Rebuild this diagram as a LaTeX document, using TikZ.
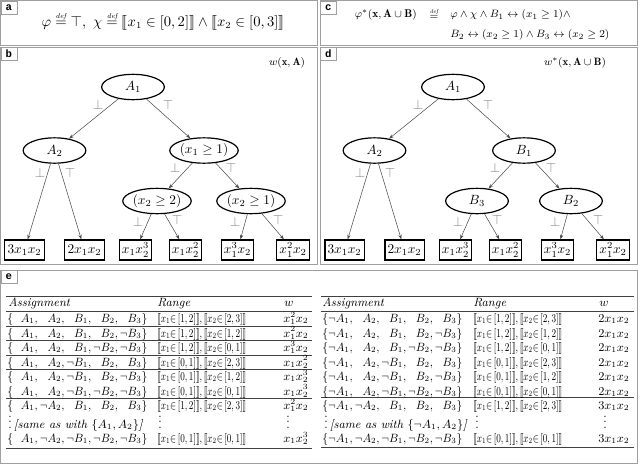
\documentclass[tikz,border=0pt]{standalone}
\usepackage{amsmath,amssymb,stmaryrd}
\usepackage{graphicx}
\usepackage{fontspec}
\newfontfamily\labfont{Liberation Mono}
\usetikzlibrary{shapes.geometric,arrows.meta}
\newlength\litw
\newcommand\Lit[1]{\makebox[\litw][r]{$#1$}}
\newcommand\Asg[5]{\resizebox{105pt}{\height}{\settowidth{\litw}{$\neg B_3$}$\{$\Lit{#1}$,\,$\Lit{#2}$,\,$\Lit{#3}$,\,$\Lit{#4}$,\,$\Lit{#5}$\}$}}
\newcommand\Rng[4]{\resizebox{66.75pt}{\height}{$\llbracket x_1{\in}\,[#1,#2]\rrbracket,\llbracket x_2{\in}\,[#3,#4]\rrbracket$}}
\newcommand\defeq{\mathrel{\overset{\scriptscriptstyle\mathit{def}}{=}}}
\newcommand\DrawTree[4]{%
 \node[ell] (#1A1) at (133,87) {$A_1$};
 \node[ell] (#1A2) at (54.5,150.5) {$A_2$};
 \node[ell] (#1X1) at (204,150.5) {#2};
 \node[ell] (#1Xa) at (157,201) {#3};
 \node[ell] (#1Xb) at (251,201) {#4};
 \node[leaf] (#1L1) at (24.5,250) {$3x_1x_2$};
 \node[leaf] (#1L2) at (84.5,250) {$2x_1x_2$};
 \node[leaf] (#1L3) at (135.5,250) {$x_1x_2^3$};
 \node[leaf] (#1L4) at (185.5,250) {$x_1x_2^2$};
 \node[leaf] (#1L5) at (237.5,250) {$x_1^3x_2$};
 \node[leaf] (#1L6) at (293,250) {$x_1^2x_2$};
 \draw[arr] (#1A1) -- (#1A2);
 \draw[arr] (#1A1) -- (#1X1);
 \draw[arr] (#1A2) -- (#1L1);
 \draw[arr] (#1A2) -- (#1L2);
 \draw[arr] (#1X1) -- (#1Xa);
 \draw[arr] (#1X1) -- (#1Xb);
 \draw[arr] (#1Xa) -- (#1L3);
 \draw[arr] (#1Xa) -- (#1L4);
 \draw[arr] (#1Xb) -- (#1L5);
 \draw[arr] (#1Xb) -- (#1L6);
 \node[lab] (#1t1) at (98,105) {$\bot$};
 \node[lab] (#1t2) at (168,105) {$\top$};
 \node[lab] (#1t3) at (40,173) {$\bot$};
 \node[lab] (#1t4) at (70,173) {$\top$};
 \node[lab] (#1t5) at (175,168) {$\bot$};
 \node[lab] (#1t6) at (231,168) {$\top$};
 \node[lab] (#1t7) at (138,222) {$\bot$};
 \node[lab] (#1t8) at (177,220) {$\top$};
 \node[lab] (#1t9) at (235,222) {$\bot$};
 \node[lab] (#1t10) at (278,220) {$\top$};
}
\tikzset{
 panel/.style={draw=gray!75, line width=0.7pt},
 tag/.style={draw=gray!75, line width=0.6pt, font=\labfont\bfseries\fontsize{8}{8}\selectfont, anchor=north west, minimum width=12pt, minimum height=9.75pt, inner sep=0pt},
 ell/.style={ellipse, draw, line width=0.9pt, minimum width=47pt, minimum height=19pt, inner sep=0pt},
 leaf/.style={rectangle, draw, line width=0.9pt, minimum height=15pt, inner sep=2pt},
 arr/.style={draw=gray!60!black, line width=0.4pt, -{Stealth[length=3.5pt,width=2.5pt]}},
 lab/.style={text=gray, inner sep=0pt},
 wlab/.style={inner sep=0pt, font=\fontsize{8}{10}\selectfont},
 cfont/.style={inner sep=0pt, font=\fontsize{8.4}{10}\selectfont},
 cell/.style={anchor=base west, inner sep=0pt, font=\fontsize{9}{10}\selectfont},
 trule/.style={draw=gray!50!black, line width=0.6pt},
}
\begin{document}
\begin{tikzpicture}[x=0.75pt,y=-0.75pt]
\useasboundingbox (0,0) rectangle (640,465);
% panels
\draw[panel] (0.5,0.5) rectangle (317,45);
\draw[panel] (320,0.5) rectangle (637,45);
\draw[panel] (0.5,47) rectangle (317,264);
\draw[panel] (320,47) rectangle (637,264);
\draw[panel] (0.5,270) rectangle (637,463);
\node[tag] (ta) at (0.5,0.5) {a};
\node[tag] (tc) at (320,0.5) {c};
\node[tag] (tb) at (0.5,47) {b};
\node[tag] (td) at (320,47) {d};
\node[tag] (te) at (0.5,270) {e};
% panel a
\node[font=\fontsize{10.6}{12}\selectfont] (fa) at (163,21) {$\varphi \defeq \top,\ \chi \defeq \llbracket x_1\in[0,2]\rrbracket\wedge\llbracket x_2\in[0,3]\rrbracket$};
% panel c
\node[cfont, anchor=east] (fc1) at (417,15) {$\varphi^*(\mathbf{x},\mathbf{A}\cup\mathbf{B})$};
\node[cfont] (fc2) at (434,14) {$\defeq$};
\node[cfont, anchor=west] (fc3) at (450,15) {$\varphi\wedge\chi\wedge B_1\leftrightarrow(x_1\geq 1)\wedge$};
\node[cfont, anchor=west] (fc4) at (450,35) {$B_2\leftrightarrow(x_2\geq 1)\wedge B_3\leftrightarrow(x_2\geq 2)$};
% panel b
\node[wlab] (wb) at (287,63) {$w(\mathbf{x},\mathbf{A})$};
\DrawTree{b}{$(x_1\geq 1)$}{$(x_2\geq 2)$}{$(x_2\geq 1)$}
% panel d
\node[wlab] (wd) at (575,63) {$w^*(\mathbf{x},\mathbf{A}\cup\mathbf{B})$};
\begin{scope}[xshift=240pt]
\DrawTree{d}{$B_1$}{$B_3$}{$B_2$}
\end{scope}
% table left
\coordinate (l0) at (6,296.7); \coordinate (l0r) at (312,296.7);
\coordinate (l1) at (6,311.5); \coordinate (l1r) at (312,311.5);
\coordinate (l2) at (6,326); \coordinate (l2r) at (312,326);
\coordinate (l3) at (6,340.5); \coordinate (l3r) at (312,340.5);
\coordinate (l4) at (6,355); \coordinate (l4r) at (312,355);
\coordinate (l5) at (6,369.5); \coordinate (l5r) at (312,369.5);
\coordinate (l6) at (6,398.3); \coordinate (l6r) at (312,398.3);
\coordinate (l7) at (6,448); \coordinate (l7r) at (312,448);
\foreach \i in {0,...,7} \draw[trule] (l\i) -- (l\i r);
\node[cell] (lh1) at (8,306.5) {\itshape Assignment};
\node[cell] (lh2) at (157,306.5) {\itshape Range};
\node[cell] (lh3) at (284,306.5) {$w$};
\node[cell] (la1) at (7,322.5) {\Asg{A_1}{A_2}{B_1}{B_2}{B_3}};
\node[cell] (lb1) at (157,322.5) {\Rng{1}{2}{2}{3}};
\node[cell] (lc1) at (283,322.5) {$x_1^2x_2$};
\node[cell] (la2) at (7,337) {\Asg{A_1}{A_2}{B_1}{B_2}{\neg B_3}};
\node[cell] (lb2) at (157,337) {\Rng{1}{2}{1}{2}};
\node[cell] (lc2) at (283,337) {$x_1^2x_2$};
\node[cell] (la3) at (7,351.5) {\Asg{A_1}{A_2}{B_1}{\neg B_2}{\neg B_3}};
\node[cell] (lb3) at (157,351.5) {\Rng{1}{2}{0}{1}};
\node[cell] (lc3) at (283,351.5) {$x_1^3x_2$};
\node[cell] (la4) at (7,366) {\Asg{A_1}{A_2}{\neg B_1}{B_2}{B_3}};
\node[cell] (lb4) at (157,366) {\Rng{0}{1}{2}{3}};
\node[cell] (lc4) at (283,366) {$x_1x_2^2$};
\node[cell] (la5) at (7,380.5) {\Asg{A_1}{A_2}{\neg B_1}{B_2}{\neg B_3}};
\node[cell] (lb5) at (157,380.5) {\Rng{0}{1}{1}{2}};
\node[cell] (lc5) at (283,380.5) {$x_1x_2^3$};
\node[cell] (la6) at (7,395) {\Asg{A_1}{A_2}{\neg B_1}{\neg B_2}{\neg B_3}};
\node[cell] (lb6) at (157,395) {\Rng{0}{1}{0}{1}};
\node[cell] (lc6) at (283,395) {$x_1x_2^3$};
\node[cell] (la7) at (7,409.5) {\Asg{A_1}{\neg A_2}{B_1}{B_2}{B_3}};
\node[cell] (lb7) at (157,409.5) {\Rng{1}{2}{2}{3}};
\node[cell] (lc7) at (283,409.5) {$x_1^2x_2$};
\node[cell] (la8) at (8,428) {$\vdots\,$\textit{[same as with} $\{A_1,A_2\}$\textit{]}};
\node[cell] (lb8) at (158,428) {$\vdots$};
\node[cell] (lc8) at (286,428) {$\vdots$};
\node[cell] (la9) at (7,442.5) {\Asg{A_1}{\neg A_2}{\neg B_1}{\neg B_2}{\neg B_3}};
\node[cell] (lb9) at (157,442.5) {\Rng{0}{1}{0}{1}};
\node[cell] (lc9) at (283,442.5) {$x_1x_2^3$};
% table right
\coordinate (r0) at (321,296.7); \coordinate (r0r) at (634,296.7);
\coordinate (r1) at (321,311.5); \coordinate (r1r) at (634,311.5);
\coordinate (r2) at (321,397); \coordinate (r2r) at (634,397);
\coordinate (r3) at (321,447.5); \coordinate (r3r) at (634,447.5);
\foreach \i in {0,...,3} \draw[trule] (r\i) -- (r\i r);
\node[cell] (rh1) at (322,306.5) {\itshape Assignment};
\node[cell] (rh2) at (473,306.5) {\itshape Range};
\node[cell] (rh3) at (599,306.5) {$w$};
\node[cell] (ra1) at (322,322.5) {\Asg{\neg A_1}{A_2}{B_1}{B_2}{B_3}};
\node[cell] (rb1) at (473,322.5) {\Rng{1}{2}{2}{3}};
\node[cell] (rc1) at (598,322.5) {$2x_1x_2$};
\node[cell] (ra2) at (322,337) {\Asg{\neg A_1}{A_2}{B_1}{B_2}{\neg B_3}};
\node[cell] (rb2) at (473,337) {\Rng{1}{2}{1}{2}};
\node[cell] (rc2) at (598,337) {$2x_1x_2$};
\node[cell] (ra3) at (322,351.5) {\Asg{\neg A_1}{A_2}{B_1}{\neg B_2}{\neg B_3}};
\node[cell] (rb3) at (473,351.5) {\Rng{1}{2}{0}{1}};
\node[cell] (rc3) at (598,351.5) {$2x_1x_2$};
\node[cell] (ra4) at (322,366) {\Asg{\neg A_1}{A_2}{\neg B_1}{B_2}{B_3}};
\node[cell] (rb4) at (473,366) {\Rng{0}{1}{2}{3}};
\node[cell] (rc4) at (598,366) {$2x_1x_2$};
\node[cell] (ra5) at (322,380.5) {\Asg{\neg A_1}{A_2}{\neg B_1}{B_2}{\neg B_3}};
\node[cell] (rb5) at (473,380.5) {\Rng{0}{1}{1}{2}};
\node[cell] (rc5) at (598,380.5) {$2x_1x_2$};
\node[cell] (ra6) at (322,395) {\Asg{\neg A_1}{A_2}{\neg B_1}{\neg B_2}{\neg B_3}};
\node[cell] (rb6) at (473,395) {\Rng{0}{1}{0}{1}};
\node[cell] (rc6) at (598,395) {$2x_1x_2$};
\node[cell] (ra7) at (322,409.5) {\Asg{\neg A_1}{\neg A_2}{B_1}{B_2}{B_3}};
\node[cell] (rb7) at (473,409.5) {\Rng{1}{2}{2}{3}};
\node[cell] (rc7) at (598,409.5) {$3x_1x_2$};
\node[cell] (ra8) at (324,428) {$\vdots\,$\textit{[same as with} $\{\neg A_1,A_2\}$\textit{]}};
\node[cell] (rb8) at (475,428) {$\vdots$};
\node[cell] (rc8) at (603,428) {$\vdots$};
\node[cell] (ra9) at (322,442.5) {\Asg{\neg A_1}{\neg A_2}{\neg B_1}{\neg B_2}{\neg B_3}};
\node[cell] (rb9) at (473,442.5) {\Rng{0}{1}{0}{1}};
\node[cell] (rc9) at (598,442.5) {$3x_1x_2$};
\end{tikzpicture}
\end{document}
